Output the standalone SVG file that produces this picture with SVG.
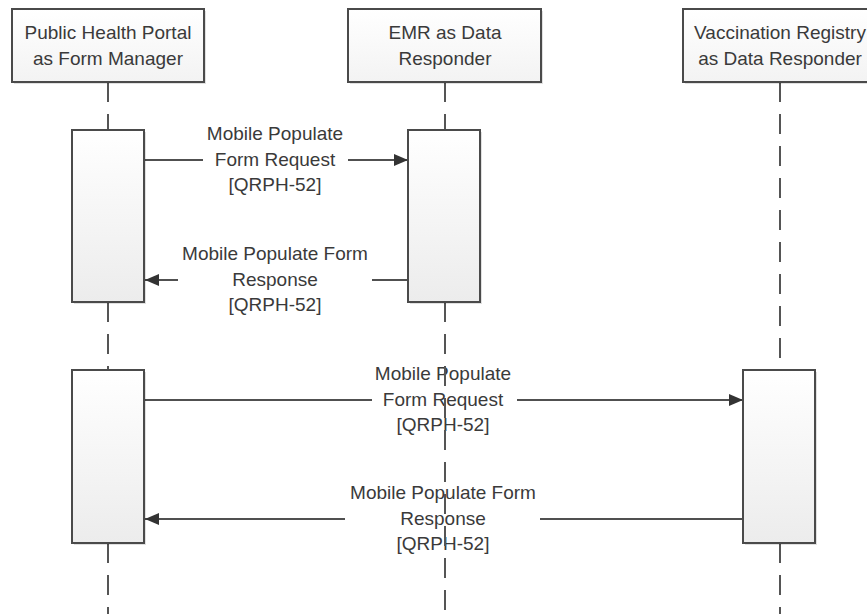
<svg xmlns="http://www.w3.org/2000/svg" width="867" height="614" viewBox="0 0 867 614">
  <style>
    text { font-family: "Liberation Sans", Arial, sans-serif; font-size: 19px; fill: #3a3a3a; text-anchor: middle; }
    .head { fill: url(#headFill); stroke: #4a4a4a; stroke-width: 2; }
    .act { fill: url(#actFill); stroke: #4a4a4a; stroke-width: 2; }
    .shadow { fill: #000; opacity: 0.12; }
    .life { stroke: #555; stroke-width: 2; stroke-dasharray: 20 12; fill: none; }
    .msg { stroke: #505050; stroke-width: 2; fill: none; }
  </style>
  <defs>
    <linearGradient id="headFill" x1="0" y1="0" x2="0" y2="1">
      <stop offset="0" stop-color="#ffffff"/>
      <stop offset="1" stop-color="#f3f3f3"/>
    </linearGradient>
    <linearGradient id="actFill" x1="0" y1="0" x2="0" y2="1">
      <stop offset="0" stop-color="#ffffff"/>
      <stop offset="1" stop-color="#ececec"/>
    </linearGradient>
    <marker id="arrow" viewBox="0 0 14 12" refX="14" refY="6" markerWidth="14" markerHeight="12" markerUnits="userSpaceOnUse" orient="auto">
      <path d="M0,0 L14,6 L0,12 Z" fill="#333"/>
    </marker>
  </defs>

  <rect width="867" height="614" fill="#ffffff"/>

  <!-- lifelines -->
  <g id="lifelines">
    <line class="life" x1="108" y1="82" x2="108" y2="130"/>
    <line class="life" x1="108" y1="302" x2="108" y2="370"/>
    <line class="life" x1="108" y1="543" x2="108" y2="614"/>
    <line class="life" x1="445" y1="82" x2="445" y2="130"/>
    <line class="life" x1="780" y1="82" x2="780" y2="370"/>
    <line class="life" x1="780" y1="543" x2="780" y2="614"/>
  </g>

  <!-- connectors -->
  <g id="connectors">
    <line class="msg" x1="144" y1="160" x2="203" y2="160"/>
    <line class="msg" x1="348" y1="160" x2="408" y2="160" marker-end="url(#arrow)"/>
    <text x="275" y="140">Mobile Populate</text>
    <text x="275" y="166">Form Request</text>
    <text x="275" y="191">[QRPH-52]</text>

    <line class="msg" x1="408" y1="280" x2="372" y2="280"/>
    <line class="msg" x1="178" y1="280" x2="145" y2="280" marker-end="url(#arrow)"/>
    <text x="275" y="260">Mobile Populate Form</text>
    <text x="275" y="286">Response</text>
    <text x="275" y="311">[QRPH-52]</text>

    <line class="msg" x1="144" y1="400" x2="372" y2="400"/>
    <line class="msg" x1="517" y1="400" x2="743" y2="400" marker-end="url(#arrow)"/>
    <text x="443" y="380">Mobile Populate</text>
    <text x="443" y="406">Form Request</text>
    <text x="443" y="431">[QRPH-52]</text>

    <line class="msg" x1="743" y1="519" x2="540" y2="519"/>
    <line class="msg" x1="345" y1="519" x2="145" y2="519" marker-end="url(#arrow)"/>
    <text x="443" y="499">Mobile Populate Form</text>
    <text x="443" y="525">Response</text>
    <text x="443" y="550">[QRPH-52]</text>
  </g>

  <!-- EMR lifeline below its activation, drawn over labels as in reference -->
  <g id="emr-lifeline-lower">
    <line class="life" x1="445" y1="302" x2="445" y2="614"/>
  </g>

  <g id="portal">
    <rect class="shadow" x="14" y="11" width="192" height="73"/>
    <rect class="head" x="12" y="9" width="192" height="73"/>
    <text x="108" y="39">Public Health Portal</text>
    <text x="108" y="65">as Form Manager</text>
  </g>

  <g id="emr">
    <rect class="shadow" x="350" y="11" width="193" height="73"/>
    <rect class="head" x="348" y="9" width="193" height="73"/>
    <text x="445" y="39">EMR as Data</text>
    <text x="445" y="65">Responder</text>
  </g>

  <g id="registry">
    <rect class="shadow" x="685" y="11" width="194" height="73"/>
    <rect class="head" x="683" y="9" width="194" height="73"/>
    <text x="780" y="39">Vaccination Registry</text>
    <text x="780" y="65">as Data Responder</text>
  </g>

  <g id="portal-act1">
    <rect class="shadow" x="74" y="132" width="72" height="172"/>
    <rect class="act" x="72" y="130" width="72" height="172"/>
  </g>
  <g id="emr-act1">
    <rect class="shadow" x="410" y="132" width="72" height="172"/>
    <rect class="act" x="408" y="130" width="72" height="172"/>
  </g>
  <g id="portal-act2">
    <rect class="shadow" x="74" y="372" width="72" height="173"/>
    <rect class="act" x="72" y="370" width="72" height="173"/>
  </g>
  <g id="registry-act1">
    <rect class="shadow" x="745" y="372" width="72" height="173"/>
    <rect class="act" x="743" y="370" width="72" height="173"/>
  </g>
</svg>
